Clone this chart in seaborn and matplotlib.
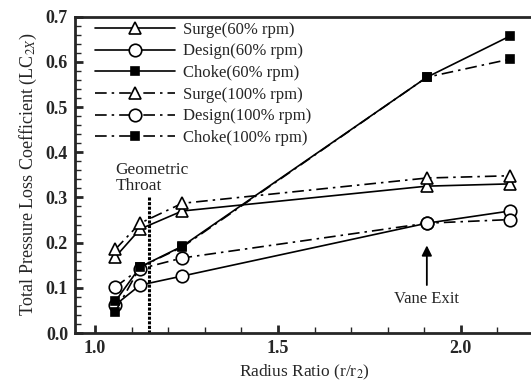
import matplotlib
matplotlib.use("Agg")
import matplotlib.pyplot as plt
import seaborn as sns
import pandas as pd
from matplotlib.ticker import MultipleLocator

radius = [1.055, 1.123, 1.238, 1.907, 2.134]
surge60 = [0.168, 0.230, 0.270, 0.325, 0.330]
design60 = [0.062, 0.106, 0.126, 0.243, 0.270]
choke60 = [0.070, 0.146, 0.192, 0.566, 0.657]
surge100 = [0.185, 0.243, 0.287, 0.343, 0.348]
design100 = [0.102, 0.142, 0.166, 0.243, 0.251]
choke100 = [0.047, 0.146, 0.190, 0.566, 0.606]
labels = ["Surge(60% rpm)", "Design(60% rpm)", "Choke(60% rpm)",
          "Surge(100% rpm)", "Design(100% rpm)", "Choke(100% rpm)"]
throat_x = 1.148
vane_exit_x = 1.907

sns.set_style("ticks")
plt.rcParams['font.family'] = ['Liberation Serif', 'DejaVu Serif']
plt.rcParams['mathtext.fontset'] = 'stix'

fig = plt.figure(figsize=(5.31, 3.87), dpi=100)
ax = fig.add_axes([75/531, 1-333/387, (534-75)/531, (333-16.7)/387])

series = [surge60, design60, choke60, surge100, design100, choke100]
markers = ['^', 'o', 's', '^', 'o', 's']
fills = ['white', 'white', 'black', 'white', 'white', 'black']
sizes = [8, 9, 6, 8, 9, 6]
dashdot = (0, (7, 3, 1.5, 3))
styles = ['-', '-', '-', dashdot, dashdot, dashdot]

for vals, lab, m, fc, ms, ls in zip(series, labels, markers, fills, sizes, styles):
    df = pd.DataFrame({"r": radius, "v": vals})
    sns.lineplot(data=df, x="r", y="v", ax=ax, color="black", linewidth=1.2,
                 linestyle=ls, marker=m, markerfacecolor=fc, markeredgecolor="black",
                 markeredgewidth=1.2, markersize=ms, label=lab)

ax.set_xlim(0.945, 2.2)
ax.set_ylim(0.0, 0.7)
ax.xaxis.set_major_locator(MultipleLocator(0.5))
ax.xaxis.set_minor_locator(MultipleLocator(0.1))
ax.yaxis.set_major_locator(MultipleLocator(0.1))
ax.yaxis.set_minor_locator(MultipleLocator(0.02))
ax.tick_params(which='both', direction='in', top=False, right=False)
ax.tick_params(which='major', length=6, width=2, labelsize=13, pad=5)
ax.tick_params(which='minor', length=4, width=1)
for lab in ax.get_xticklabels() + ax.get_yticklabels():
    lab.set_fontweight('bold')
for sp in ax.spines.values():
    sp.set_linewidth(2)
    sp.set_visible(True)

ax.set_xlabel("Radius Ratio (r/r$_2$)", fontsize=12.5, labelpad=4)
ax.set_ylabel("Total Pressure Loss Coefficient (LC$_{2X}$)", fontsize=13, labelpad=5)

ax.axvline(throat_x, ymin=0, ymax=0.3/0.7, color="black", linewidth=2.2, linestyle=(0, (1, 0.5)))
ax.text(1.055, 0.378, "Geometric\nThroat", fontsize=12.5, ha='left', va='top', linespacing=1.0)

ax.annotate("", xy=(vane_exit_x, 0.200), xytext=(vane_exit_x, 0.100),
            arrowprops=dict(arrowstyle='-|>', color='black', lw=1.3, mutation_scale=15))
ax.text(vane_exit_x, 0.075, "Vane Exit", fontsize=12, ha='center', va='center')

leg = ax.legend(loc='upper left', bbox_to_anchor=(0.033, 1.0), frameon=False, fontsize=12,
                handlelength=4.8, handletextpad=0.5, labelspacing=0.34, borderpad=0.15,
                borderaxespad=0.15)

fig.savefig("out.png", dpi=100)
